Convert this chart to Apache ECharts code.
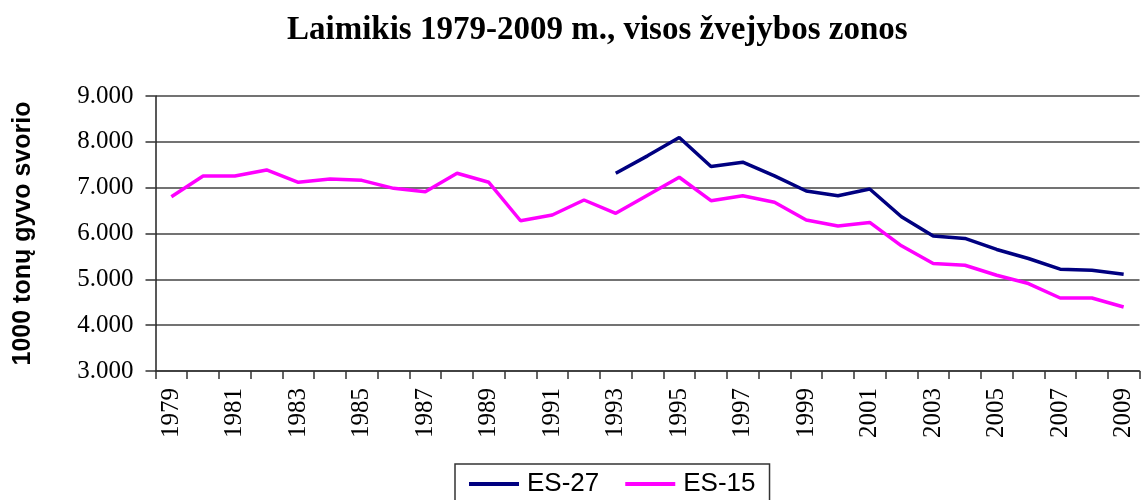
<!DOCTYPE html>
<html>
<head>
<meta charset="utf-8">
<script src="https://cdn.jsdelivr.net/npm/echarts@6/dist/echarts.min.js"></script>
<style>html,body{margin:0;padding:0;background:#fff;}#c{width:1143px;height:500px;}</style>
</head>
<body>
<div id="c"></div>
<script>
var years = ['1979','1980','1981','1982','1983','1984','1985','1986','1987','1988','1989','1990','1991','1992','1993','1994','1995','1996','1997','1998','1999','2000','2001','2002','2003','2004','2005','2006','2007','2008','2009'];
var es27 = [null,null,null,null,null,null,null,null,null,null,null,null,null,null,
  7314,7694,8094,7460,7555,7256,6928,6825,6972,6365,5943,5893,5652,5455,5221,5199,5112];
var es15 = [6803,7256,7256,7387,7117,7190,7160,6985,6912,7314,7117,6278,6403,6731,6440,6834,7227,6716,6825,6680,6293,6162,6242,5731,5346,5308,5090,4908,4593,4593,4396];
var seriesNames = ['ES-27','ES-15'];
var titleText = 'Laimikis 1979-2009 m., visos žvejybos zonos';
var yName = '1000 tonų gyvo svorio';

function fmt(v){ return String(v).replace(/\B(?=(\d{3})+(?!\d))/g, '.'); }

var chart = echarts.init(document.getElementById('c'), null, {renderer:'canvas'});
chart.setOption({
  animation: false,
  backgroundColor: '#fff',
  title: {
    text: titleText, left: 287, top: 14, padding: 0,
    textStyle: {fontFamily: 'Liberation Serif', fontWeight: 'bold', fontSize: 33, color: '#000'}
  },
  legend: {
    data: seriesNames, left: 455, top: 464,
    orient: 'horizontal', icon: 'rect', itemWidth: 50, itemHeight: 4, itemGap: 26,
    padding: [7, 14, 12, 14],
    borderColor: '#333', borderWidth: 1.5,
    textStyle: {fontFamily: 'Liberation Sans', fontSize: 26, color: '#000', padding: [0,0,0,3]}
  },
  grid: {left: 155.5, right: -6, top: 96, bottom: 129, containLabel: false},
  xAxis: {
    type: 'category', data: years, boundaryGap: true,
    axisLine: {lineStyle: {color: '#333', width: 1.5}},
    axisTick: {show: true, interval: 0, length: 8, lineStyle: {color: '#333', width: 1.5}},
    axisLabel: {interval: 1, rotate: 90, margin: 17, fontFamily: 'Liberation Serif', fontSize: 25, color: '#000', lineHeight: 25, padding: [0,0,14,0]},
    splitLine: {show: false}
  },
  yAxis: {
    type: 'value', min: 3000, max: 9000, interval: 1000,
    name: yName, nameLocation: 'middle', nameRotate: 90, nameGap: 120,
    nameTextStyle: {fontFamily: 'Liberation Sans', fontWeight: 'bold', fontSize: 25, color: '#000'},
    axisLine: {show: true, lineStyle: {color: '#222', width: 1.5}},
    axisTick: {show: true, inside: false, length: 10, lineStyle: {color: '#333', width: 1.5}},
    axisLabel: {margin: 22, fontFamily: 'Liberation Serif', fontSize: 25, color: '#000', formatter: fmt},
    splitLine: {show: true, lineStyle: {color: '#444', width: 1.5}}
  },
  series: [
    {name: seriesNames[0], type: 'line', data: es27, symbol: 'none', connectNulls: false,
     lineStyle: {color: '#000080', width: 3.5}, itemStyle: {color: '#000080'}},
    {name: seriesNames[1], type: 'line', data: es15, symbol: 'none',
     lineStyle: {color: '#ff00ff', width: 3.5}, itemStyle: {color: '#ff00ff'}}
  ]
});
</script>
</body>
</html>
